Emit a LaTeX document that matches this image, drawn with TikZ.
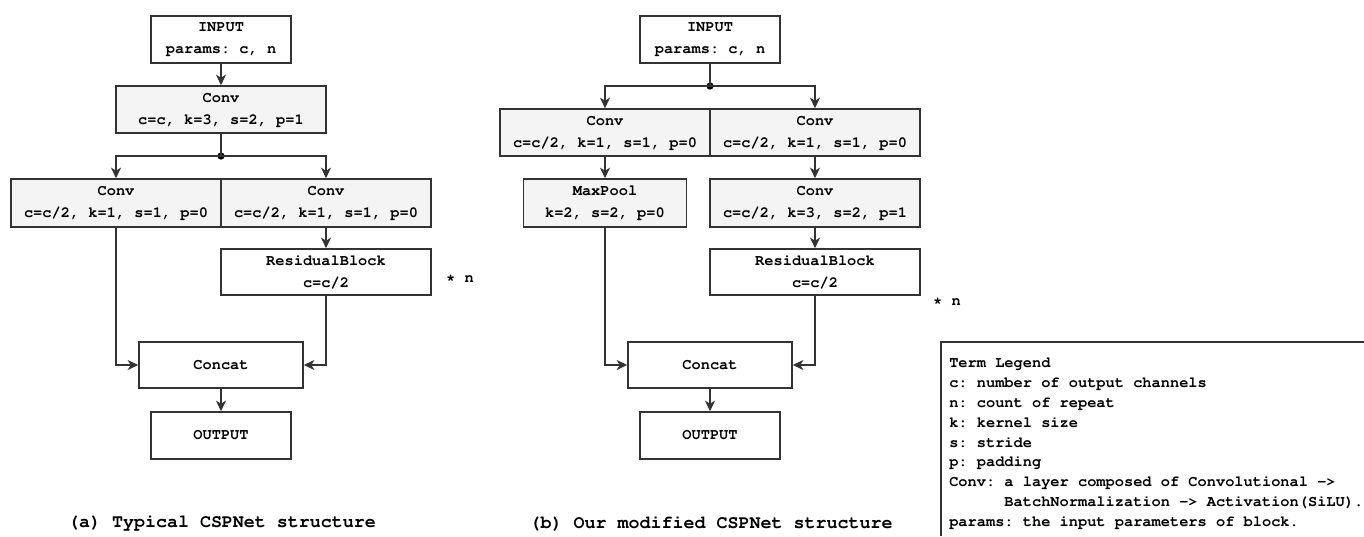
\documentclass[tikz,border=0pt]{standalone}
\usepackage[T1]{fontenc}
\renewcommand{\familydefault}{pcr}
\usetikzlibrary{arrows.meta}
\definecolor{edge}{HTML}{333333}
\definecolor{convfill}{HTML}{F4F4F4}
\tikzset{
  sz/.style 2 args={minimum width=#1*0.75pt, minimum height=#2*0.75pt},
  txt/.style={font=\fontsize{11.5}{16.5}\selectfont\bfseries},
  blk/.style={txt, draw=edge, line width=1.1pt, fill=white, align=center, inner sep=0pt},
  layer/.style={blk, fill=convfill},
  junc/.style={circle, fill=black, inner sep=0pt, minimum size=5.5pt},
  wire/.style={draw=edge, line width=1.1pt},
  link/.style={wire, -{Stealth[length=8pt,width=7.5pt,inset=2.4pt]}},
  caption/.style={font=\fontsize{13.75}{16}\selectfont\bfseries},
  legend/.style={txt, anchor=base west, inner sep=0pt},
}
\begin{document}
\frenchspacing
\begin{tikzpicture}[x=0.75pt, y=-0.75pt]
\useasboundingbox (0,0) rectangle (1364,536);

% ---------------- (a) typical CSPNet ----------------
\node[blk, sz={140}{47}] (inA) at (221,39.5) {INPUT\\params: c, n};
\node[layer, sz={210}{47}] (cvA) at (221,109.5) {Conv\\c=c, k=3, s=2, p=1};
\node[junc] (dA) at (221,156) {};
\node[layer, sz={210}{48}] (lA) at (116,203) {Conv\\c=c/2, k=1, s=1, p=0};
\node[layer, sz={210}{48}] (rA) at (326,203) {Conv\\c=c/2, k=1, s=1, p=0};
\node[blk, sz={210}{46}] (resA) at (326,272) {ResidualBlock\\c=c/2};
\node[txt] (nA) at (460,279) {* n};
\node[blk, sz={164}{46}] (catA) at (221,365) {Concat};
\node[blk, sz={140}{47}] (outA) at (221,435.5) {OUTPUT};
\node[caption] (capA) at (222,523) {(a) Typical CSPNet structure};

\draw[link] (inA) -- (cvA);
\draw[wire] (cvA.south) -- (dA.center);
\draw[link] (dA.center) -| (lA.north);
\draw[link] (dA.center) -| (rA.north);
\draw[link] (rA) -- (resA);
\draw[link] (lA.south) |- (catA.west);
\draw[link] (resA.south) |- (catA.east);
\draw[link] (catA) -- (outA);

% ---------------- (b) modified CSPNet ----------------
\node[blk, sz={140}{47}] (inB) at (710,39.5) {INPUT\\params: c, n};
\node[junc] (dB) at (710,86) {};
\node[layer, sz={210}{47}] (lB) at (605,132.5) {Conv\\c=c/2, k=1, s=1, p=0};
\node[layer, sz={210}{47}] (rB) at (815,132.5) {Conv\\c=c/2, k=1, s=1, p=0};
\node[layer, sz={163}{48}] (mpB) at (605,203) {MaxPool\\k=2, s=2, p=0};
\node[layer, sz={210}{48}] (cvB) at (815,203) {Conv\\c=c/2, k=3, s=2, p=1};
\node[blk, sz={210}{46}] (resB) at (815,272) {ResidualBlock\\c=c/2};
\node[txt] (nB) at (947,302) {* n};
\node[blk, sz={164}{46}] (catB) at (710,365) {Concat};
\node[blk, sz={140}{47}] (outB) at (710,435.5) {OUTPUT};
\node[caption] (capB) at (711,523) {(b) Our modified CSPNet structure};

\draw[wire] (inB.south) -- (dB.center);
\draw[link] (dB.center) -| (lB.north);
\draw[link] (dB.center) -| (rB.north);
\draw[link] (lB) -- (mpB);
\draw[link] (rB) -- (cvB);
\draw[link] (cvB) -- (resB);
\draw[link] (mpB.south) |- (catB.west);
\draw[link] (resB.south) |- (catB.east);
\draw[link] (catB) -- (outB);

% ---------------- term legend ----------------
\draw[wire] (941,536) -- (941,342) -- (1364,342);
\foreach \line [count=\i] in {
    Term Legend,
    c: number of output channels,
    n: count of repeat,
    k: kernel size,
    s: stride,
    p: padding,
    Conv: a layer composed of Convolutional ->,
    \phantom{xxxxxx}BatchNormalization -> Activation(SiLU).,
    params: the input parameters of block.}
  \node[legend] (lg\i) at (949,{348+19.8*\i}) {\line};
\end{tikzpicture}
\end{document}
